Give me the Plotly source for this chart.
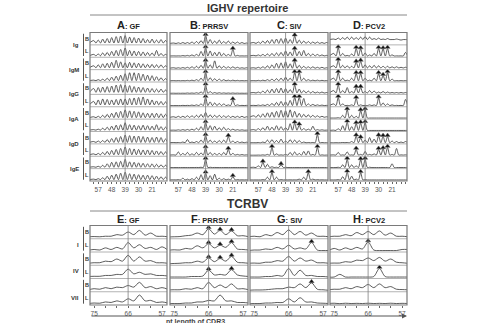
import plotly.graph_objects as go

W, H = 482, 323

# ---------------- data ----------------
IGHV_LEN = [60, 57, 54, 51, 48, 45, 42, 39, 36, 33, 30, 27, 24, 21, 18, 15, 12]
IGHV_TICKS = [57, 48, 39, 30, 21]
IGHV_GROUPS = ["Ig", "IgM", "IgG", "IgA", "IgD", "IgE"]
ROW_TAGS = ["B", "L"]

TCR_LEN = [76.5, 75, 73.5, 72, 70.5, 69, 67.5, 66, 64.5, 63, 61.5, 60, 58.5, 57, 55.5]
TCR_TICKS = [75, 66, 57]
TCR_GROUPS = ["I", "IV", "VII"]

PANELS_TOP = [("A", "GF"), ("B", "PRRSV"), ("C", "SIV"), ("D", "PCV2")]
PANELS_BOT = [("E", "GF"), ("F", "PRRSV"), ("G", "SIV"), ("H", "PCV2")]

# peak heights (relative) at IGHV_LEN, rows: Ig B, Ig L, IgM B, IgM L, IgG B, IgG L, IgA B, IgA L, IgD B, IgD L, IgE B, IgE L
A_GF = [
    [0.35, 0.4, 0.5, 0.55, 0.65, 0.75, 0.8, 0.85, 0.7, 0.65, 0.6, 0.55, 0.45, 0.5, 0.4, 0.45, 0.35],
    [0.2, 0.25, 0.35, 0.4, 0.5, 0.6, 0.7, 0.85, 0.6, 0.55, 0.5, 0.45, 0.4, 0.35, 0.6, 0.3, 0.2],
    [0.3, 0.4, 0.5, 0.55, 0.65, 0.85, 0.7, 0.6, 0.65, 0.6, 0.55, 0.5, 0.45, 0.45, 0.4, 0.4, 0.3],
    [0.1, 0.15, 0.2, 0.3, 0.4, 0.5, 0.6, 0.75, 0.85, 0.85, 0.8, 0.7, 0.6, 0.55, 0.45, 0.35, 0.25],
    [0.5, 0.6, 0.65, 0.7, 0.75, 0.85, 0.9, 0.85, 0.8, 0.7, 0.65, 0.6, 0.55, 0.5, 0.45, 0.45, 0.35],
    [0.45, 0.6, 0.7, 0.65, 0.6, 0.65, 0.7, 0.7, 0.75, 0.8, 0.85, 0.9, 0.7, 0.6, 0.5, 0.45, 0.4],
    [0.15, 0.2, 0.3, 0.4, 0.5, 0.6, 0.7, 0.85, 0.75, 0.7, 0.65, 0.55, 0.5, 0.5, 0.5, 0.45, 0.4],
    [0.1, 0.15, 0.25, 0.35, 0.45, 0.55, 0.6, 0.8, 0.6, 0.55, 0.5, 0.55, 0.5, 0.45, 0.6, 0.4, 0.35],
    [0.15, 0.2, 0.25, 0.35, 0.45, 0.55, 0.65, 0.8, 0.75, 0.7, 0.7, 0.65, 0.6, 0.55, 0.6, 0.55, 0.4],
    [0.15, 0.2, 0.3, 0.4, 0.5, 0.6, 0.7, 0.85, 0.7, 0.65, 0.6, 0.55, 0.55, 0.5, 0.45, 0.4, 0.35],
    [0.1, 0.15, 0.25, 0.4, 0.55, 0.6, 0.65, 0.85, 0.6, 0.55, 0.5, 0.45, 0.4, 0.4, 0.35, 0.3, 0.25],
    [0.1, 0.15, 0.25, 0.4, 0.5, 0.6, 0.7, 0.8, 0.65, 0.6, 0.55, 0.5, 0.5, 0.45, 0.4, 0.35, 0.3],
]
A_FLOOR = [0.1, 0.06, 0.1, 0.05, 0.12, 0.1, 0.06, 0.05, 0.06, 0.06, 0.05, 0.05]
A_MARK = [[] for _ in range(12)]

B_PRRSV = [
    [0.1, 0.12, 0.15, 0.15, 0.2, 0.25, 0.35, 0.85, 0.45, 0.3, 0.4, 0.25, 0.3, 0.2, 0.2, 0.15, 0.1],
    [0.05, 0.05, 0.08, 0.1, 0.15, 0.2, 0.5, 0.85, 0.55, 0.4, 0.45, 0.3, 0.2, 0.7, 0.1, 0.05, 0.05],
    [0.1, 0.1, 0.12, 0.15, 0.2, 0.25, 0.35, 0.75, 0.4, 0.8, 0.3, 0.25, 0.2, 0.2, 0.15, 0.1, 0.1],
    [0.05, 0.05, 0.05, 0.08, 0.1, 0.15, 0.3, 0.85, 0.35, 0.25, 0.2, 0.15, 0.1, 0.1, 0.08, 0.05, 0.05],
    [0.03, 0.03, 0.03, 0.05, 0.05, 0.08, 0.15, 0.85, 0.2, 0.1, 0.08, 0.06, 0.05, 0.05, 0.04, 0.03, 0.03],
    [0.03, 0.03, 0.05, 0.05, 0.08, 0.1, 0.2, 0.85, 0.4, 0.3, 0.25, 0.2, 0.1, 0.6, 0.1, 0.05, 0.05],
    [0.15, 0.2, 0.2, 0.25, 0.25, 0.3, 0.4, 0.6, 0.35, 0.3, 0.3, 0.25, 0.25, 0.2, 0.2, 0.2, 0.15],
    [0.05, 0.08, 0.1, 0.12, 0.15, 0.25, 0.4, 0.8, 0.5, 0.45, 0.3, 0.35, 0.2, 0.15, 0.1, 0.08, 0.05],
    [0.05, 0.05, 0.1, 0.35, 0.1, 0.15, 0.3, 0.75, 0.3, 0.2, 0.25, 0.3, 0.65, 0.2, 0.15, 0.1, 0.08],
    [0.05, 0.35, 0.2, 0.3, 0.15, 0.3, 0.25, 0.75, 0.3, 0.2, 0.2, 0.3, 0.6, 0.2, 0.1, 0.08, 0.05],
    [0.02, 0.02, 0.02, 0.02, 0.02, 0.03, 0.05, 0.85, 0.05, 0.03, 0.02, 0.02, 0.02, 0.02, 0.02, 0.02, 0.02],
    [0.03, 0.05, 0.2, 0.1, 0.15, 0.3, 0.55, 0.7, 0.45, 0.6, 0.2, 0.15, 0.1, 0.35, 0.05, 0.03, 0.03],
]
B_FLOOR = [0.05, 0.04, 0.05, 0.03, 0.02, 0.03, 0.08, 0.04, 0.03, 0.03, 0.02, 0.02]
B_MARK = [[39], [39, 21], [39], [39], [39], [39, 21], [], [39], [39, 24], [39, 24], [39], [39, 21]]

C_SIV = [
    [0.15, 0.2, 0.3, 0.35, 0.45, 0.5, 0.55, 0.6, 0.45, 0.8, 0.4, 0.3, 0.25, 0.2, 0.2, 0.15, 0.15],
    [0.1, 0.15, 0.2, 0.25, 0.3, 0.35, 0.4, 0.55, 0.45, 0.7, 0.5, 0.6, 0.3, 0.25, 0.2, 0.15, 0.1],
    [0.1, 0.15, 0.2, 0.3, 0.4, 0.55, 0.6, 0.7, 0.5, 0.75, 0.35, 0.25, 0.2, 0.2, 0.15, 0.15, 0.1],
    [0.05, 0.08, 0.1, 0.15, 0.2, 0.25, 0.3, 0.4, 0.3, 0.85, 0.85, 0.3, 0.15, 0.1, 0.1, 0.08, 0.05],
    [0.1, 0.15, 0.25, 0.35, 0.45, 0.5, 0.55, 0.5, 0.4, 0.85, 0.45, 0.3, 0.25, 0.2, 0.15, 0.15, 0.1],
    [0.05, 0.08, 0.1, 0.15, 0.25, 0.35, 0.45, 0.4, 0.55, 0.85, 0.85, 0.75, 0.2, 0.15, 0.1, 0.08, 0.05],
    [0.25, 0.35, 0.45, 0.55, 0.6, 0.7, 0.8, 0.75, 0.85, 0.7, 0.5, 0.4, 0.35, 0.3, 0.25, 0.2, 0.15],
    [0.1, 0.2, 0.3, 0.45, 0.35, 0.5, 0.4, 0.3, 0.7, 0.75, 0.55, 0.2, 0.15, 0.45, 0.1, 0.08, 0.05],
    [0.03, 0.05, 0.1, 0.3, 0.35, 0.25, 0.4, 0.2, 0.35, 0.3, 0.25, 0.1, 0.05, 0.05, 0.85, 0.05, 0.03],
    [0.02, 0.03, 0.05, 0.1, 0.8, 0.15, 0.05, 0.1, 0.3, 0.35, 0.2, 0.4, 0.45, 0.1, 0.8, 0.05, 0.03],
    [0.05, 0.2, 0.55, 0.35, 0.1, 0.05, 0.3, 0.05, 0.02, 0.02, 0.02, 0.02, 0.02, 0.02, 0.02, 0.02, 0.02],
    [0.02, 0.02, 0.05, 0.3, 0.75, 0.3, 0.05, 0.03, 0.03, 0.03, 0.1, 0.3, 0.75, 0.1, 0.05, 0.03, 0.02],
]
C_FLOOR = [0.06, 0.05, 0.05, 0.03, 0.05, 0.03, 0.1, 0.04, 0.02, 0.02, 0.02, 0.02]
C_MARK = [[33], [33], [33], [33, 30], [33], [33, 30], [], [33, 30], [18], [48, 18], [54, 42], [48, 24]]

D_PCV2 = [
    [0.5, 0.6, 0.65, 0.7, 0.7, 0.65, 0.7, 0.75, 0.7, 0.55, 0.6, 0.5, 0.55, 0.45, 0.5, 0.4, 0.45],
    [0.3, 0.85, 0.3, 0.1, 0.25, 0.8, 0.75, 0.35, 0.15, 0.3, 0.8, 0.75, 0.8, 0.15, 0.05, 0.05, 0.4],
    [0.3, 0.85, 0.35, 0.3, 0.25, 0.65, 0.75, 0.4, 0.3, 0.35, 0.3, 0.25, 0.25, 0.2, 0.2, 0.15, 0.15],
    [0.3, 0.85, 0.3, 0.1, 0.3, 0.75, 0.75, 0.3, 0.1, 0.3, 0.75, 0.55, 0.85, 0.2, 0.05, 0.05, 0.05],
    [0.3, 0.85, 0.3, 0.6, 0.2, 0.6, 0.6, 0.2, 0.3, 0.25, 0.15, 0.2, 0.15, 0.1, 0.1, 0.1, 0.1],
    [0.2, 0.85, 0.2, 0.05, 0.1, 0.75, 0.1, 0.05, 0.1, 0.1, 0.8, 0.3, 0.2, 0.1, 0.05, 0.05, 0.65],
    [0.02, 0.05, 0.3, 0.85, 0.3, 0.2, 0.75, 0.85, 0.02, 0.02, 0.02, 0.02, 0.02, 0.02, 0.02, 0.02, 0.02],
    [0.05, 0.2, 0.5, 0.85, 0.4, 0.7, 0.75, 0.8, 0.02, 0.02, 0.02, 0.02, 0.02, 0.02, 0.02, 0.02, 0.02],
    [0.02, 0.02, 0.05, 0.05, 0.15, 0.7, 0.5, 0.3, 0.55, 0.4, 0.7, 0.65, 0.65, 0.2, 0.15, 0.1, 0.15],
    [0.05, 0.3, 0.05, 0.35, 0.05, 0.6, 0.1, 0.4, 0.1, 0.15, 0.6, 0.65, 0.8, 0.1, 0.7, 0.05, 0.05],
    [0.02, 0.05, 0.3, 0.85, 0.3, 0.2, 0.8, 0.85, 0.05, 0.02, 0.02, 0.02, 0.02, 0.4, 0.02, 0.02, 0.02],
    [0.02, 0.05, 0.35, 0.8, 0.4, 0.1, 0.75, 0.05, 0.02, 0.02, 0.02, 0.02, 0.02, 0.02, 0.02, 0.02, 0.02],
]
D_FLOOR = [0.45, 0.04, 0.08, 0.03, 0.05, 0.03, 0.02, 0.02, 0.03, 0.03, 0.02, 0.02]
D_MARK = [[], [57, 45, 42, 30, 27, 24], [57, 45, 42], [57, 45, 42, 30, 27, 24], [57, 45, 42], [57, 45, 30],
          [51, 42, 39], [51, 45, 42, 39], [45, 42, 30, 27, 24], [45, 30, 27, 24], [51, 42, 39], [51, 42]]

# TCRBV traces at TCR_LEN, rows: I B, I L, IV B, IV L, VII B, VII L
E_GF = [
    [0.1, 0.12, 0.1, 0.15, 0.15, 0.3, 0.25, 0.55, 0.3, 0.7, 0.25, 0.45, 0.15, 0.15, 0.1],
    [0.08, 0.15, 0.1, 0.3, 0.15, 0.35, 0.2, 0.8, 0.3, 0.6, 0.25, 0.35, 0.15, 0.4, 0.1],
    [0.1, 0.15, 0.15, 0.3, 0.25, 0.5, 0.3, 0.85, 0.3, 0.7, 0.3, 0.35, 0.15, 0.15, 0.1],
    [0.1, 0.12, 0.12, 0.2, 0.2, 0.3, 0.3, 0.8, 0.35, 0.5, 0.3, 0.35, 0.2, 0.2, 0.15],
    [0.1, 0.2, 0.15, 0.3, 0.2, 0.35, 0.3, 0.5, 0.35, 0.8, 0.3, 0.4, 0.2, 0.3, 0.15],
    [0.05, 0.1, 0.08, 0.2, 0.15, 0.3, 0.2, 0.5, 0.3, 0.85, 0.3, 0.35, 0.15, 0.2, 0.1],
]
E_MARK = [[], [], [], [], [], []]

F_PRRSV = [
    [0.08, 0.1, 0.12, 0.2, 0.25, 0.45, 0.3, 0.85, 0.35, 0.7, 0.3, 0.65, 0.2, 0.2, 0.1],
    [0.08, 0.12, 0.1, 0.25, 0.2, 0.5, 0.3, 0.7, 0.3, 0.55, 0.35, 0.8, 0.2, 0.15, 0.1],
    [0.05, 0.08, 0.1, 0.15, 0.15, 0.3, 0.2, 0.6, 0.25, 0.55, 0.3, 0.75, 0.2, 0.15, 0.1],
    [0.05, 0.05, 0.05, 0.05, 0.1, 0.1, 0.15, 0.7, 0.25, 0.3, 0.25, 0.75, 0.25, 0.15, 0.1],
    [0.08, 0.1, 0.1, 0.2, 0.15, 0.3, 0.2, 0.8, 0.3, 0.55, 0.3, 0.65, 0.2, 0.2, 0.1],
    [0.05, 0.05, 0.05, 0.1, 0.1, 0.2, 0.2, 0.35, 0.3, 0.85, 0.3, 0.3, 0.15, 0.15, 0.1],
]
F_MARK = [[66, 63, 60], [66, 63, 60], [66, 63, 60], [66, 60], [], []]

G_SIV = [
    [0.1, 0.15, 0.1, 0.3, 0.2, 0.5, 0.3, 0.75, 0.3, 0.6, 0.25, 0.45, 0.15, 0.15, 0.1],
    [0.05, 0.1, 0.1, 0.2, 0.15, 0.35, 0.2, 0.55, 0.2, 0.3, 0.2, 0.8, 0.1, 0.05, 0.05],
    [0.1, 0.12, 0.1, 0.2, 0.2, 0.35, 0.3, 0.75, 0.3, 0.6, 0.3, 0.4, 0.15, 0.15, 0.1],
    [0.05, 0.05, 0.05, 0.1, 0.1, 0.2, 0.15, 0.85, 0.2, 0.7, 0.2, 0.2, 0.1, 0.1, 0.05],
    [0.05, 0.08, 0.08, 0.1, 0.15, 0.2, 0.2, 0.35, 0.3, 0.65, 0.3, 0.75, 0.15, 0.1, 0.05],
    [0.03, 0.05, 0.05, 0.1, 0.1, 0.15, 0.15, 0.5, 0.2, 0.6, 0.2, 0.2, 0.1, 0.08, 0.05],
]
G_MARK = [[], [60], [], [], [60], []]

H_PCV2 = [
    [0.1, 0.15, 0.15, 0.3, 0.2, 0.5, 0.3, 0.6, 0.3, 0.65, 0.25, 0.45, 0.15, 0.15, 0.1],
    [0.05, 0.25, 0.1, 0.3, 0.15, 0.35, 0.2, 0.85, 0.1, 0.05, 0.05, 0.05, 0.05, 0.15, 0.15],
    [0.1, 0.12, 0.12, 0.25, 0.2, 0.4, 0.35, 0.6, 0.35, 0.65, 0.3, 0.5, 0.2, 0.15, 0.1],
    [0.05, 0.05, 0.3, 0.05, 0.05, 0.05, 0.05, 0.05, 0.1, 0.85, 0.1, 0.05, 0.05, 0.05, 0.05],
    [0.1, 0.15, 0.15, 0.3, 0.2, 0.4, 0.3, 0.6, 0.3, 0.65, 0.3, 0.4, 0.15, 0.12, 0.1],
    [0.05, 0.08, 0.04, 0.08, 0.05, 0.07, 0.05, 0.08, 0.05, 0.07, 0.05, 0.08, 0.05, 0.07, 0.05],
]
H_MARK = [[], [66], [], [63], [], []]

TOP_DATA = [(A_GF, A_FLOOR, A_MARK), (B_PRRSV, B_FLOOR, B_MARK), (C_SIV, C_FLOOR, C_MARK), (D_PCV2, D_FLOOR, D_MARK)]
BOT_DATA = [(E_GF, E_MARK), (F_PRRSV, F_MARK), (G_SIV, G_MARK), (H_PCV2, H_MARK)]

# ---------------- layout helpers ----------------
def px(x):
    return x / W


def py(y):
    return 1 - y / H


COL_PX = [(90, 167), (170, 248), (250, 328), (330, 407)]
TOP_PX = (32.5, 181)
BOT_PX = (225.5, 305)
IGHV_RANGE = [62.5, 11]
TCR_RANGE = [76.1, 55.7]
AMP = 0.8
BASE = 0.07
LINE_C = "#333333"
FRAME_C = "#7a7a7a"
SEP_C = "#a0a0a0"
FONT = "Arial, Liberation Sans, sans-serif"

fig = go.Figure()
shapes = []
annotations = []
layout_axes = {}

n_top = len(IGHV_GROUPS) * 2
n_bot = len(TCR_GROUPS) * 2

for sec in range(2):
    for c in range(4):
        idx = sec * 4 + c + 1
        xname = "x" if idx == 1 else f"x{idx}"
        xkey = "xaxis" if idx == 1 else f"xaxis{idx}"
        yname = "y" if sec == 0 else "y2"
        if sec == 0:
            tv = IGHV_LEN
            tt = [str(v) if v in IGHV_TICKS else "" for v in IGHV_LEN]
            rng = IGHV_RANGE
            nrows = n_top
        else:
            tv = [75, 72, 69, 66, 63, 60, 57]
            tt = [str(v) if v in TCR_TICKS else "" for v in tv]
            rng = TCR_RANGE
            nrows = n_bot
        layout_axes[xkey] = dict(
            domain=[px(COL_PX[c][0]), px(COL_PX[c][1])], anchor=yname, range=rng,
            tickvals=tv, ticktext=tt, ticks="outside", ticklen=2, tickwidth=0.8, tickcolor="#666",
            tickfont=dict(size=6.5, color="#555", family=FONT), showgrid=False, zeroline=False,
            showline=False, fixedrange=True)

        if sec == 0:
            rows, floors, marks = TOP_DATA[c]
        else:
            rows, marks = BOT_DATA[c]
        for r in range(nrows):
            base = nrows - 1 - r + BASE
            if sec == 0:
                xs, ys = [IGHV_RANGE[0] + 0.5], [base + floors[r] * AMP]
                for i, p in enumerate(IGHV_LEN):
                    xs.append(p)
                    ys.append(base + rows[r][i] * AMP)
                    xs.append(p - 1.5)
                    ys.append(base + floors[r] * AMP)
                lens = IGHV_LEN
            else:
                xs = list(TCR_LEN)
                ys = [base + v * AMP for v in rows[r]]
                lens = TCR_LEN
            fig.add_trace(go.Scatter(x=xs, y=ys, mode="lines", xaxis=xname, yaxis=yname,
                                     line=dict(color=LINE_C, width=0.8, shape="spline", smoothing=0.9),
                                     hoverinfo="skip", showlegend=False))
            if marks[r]:
                mx = marks[r]
                my = [base + rows[r][lens.index(m)] * AMP + 0.1 for m in mx]
                fig.add_trace(go.Scatter(x=mx, y=my, mode="markers", xaxis=xname, yaxis=yname,
                                         marker=dict(symbol="triangle-up", size=4.5, color="#111",
                                                     line=dict(width=0.5, color="#666")),
                                         hoverinfo="skip", showlegend=False, cliponaxis=False))
            # row separator
            if r > 0:
                shapes.append(dict(type="line", xref=f"{xname} domain", yref=yname, x0=0, x1=1,
                                   y0=nrows - r, y1=nrows - r, line=dict(color=SEP_C, width=0.8)))
        # reference line
        refx = 39 if sec == 0 else 66
        shapes.append(dict(type="line", xref=xname, yref=f"{yname} domain", x0=refx, x1=refx, y0=0, y1=1,
                           line=dict(color="#808080", width=0.8)))
        # frame
        shapes.append(dict(type="rect", xref=f"{xname} domain", yref=f"{yname} domain", x0=0, x1=1, y0=0, y1=1,
                           line=dict(color=FRAME_C, width=1.2)))
        # panel title
        letter, name = (PANELS_TOP if sec == 0 else PANELS_BOT)[c]
        ty = 25 if sec == 0 else 219
        annotations.append(dict(
            x=px((COL_PX[c][0] + COL_PX[c][1]) / 2), y=py(ty), xref="paper", yref="paper",
            text=f"<b><span style='font-size:11px'>{letter}</span>: {name}</b>",
            showarrow=False, font=dict(size=7.5, color="#222", family=FONT), xanchor="center", yanchor="middle"))

layout_axes["yaxis"] = dict(domain=[py(TOP_PX[1]), py(TOP_PX[0])], range=[0, n_top], visible=False,
                            anchor="x", fixedrange=True)
layout_axes["yaxis2"] = dict(domain=[py(BOT_PX[1]), py(BOT_PX[0])], range=[0, n_bot], visible=False,
                             anchor="x5", fixedrange=True)

# left row labels
for sec, groups, yname, nrows, goff in [(0, IGHV_GROUPS, "y", n_top, 1.0), (1, TCR_GROUPS, "y2", n_bot, 1.45)]:
    for g, gname in enumerate(groups):
        top = nrows - 2 * g
        annotations.append(dict(x=px(81), y=top - goff, xref="paper", yref=yname, text=f"<b>{gname}</b>",
                                showarrow=False, xanchor="right", yanchor="middle",
                                font=dict(size=6, color="#333", family=FONT)))
        shapes.append(dict(type="line", xref="paper", yref=yname, x0=px(83.5), x1=px(83.5),
                           y0=top - 1.9, y1=top - 0.1, line=dict(color="#555", width=1)))
        for k, tag in enumerate(ROW_TAGS):
            annotations.append(dict(x=px(86.8), y=top - 0.5 - k, xref="paper", yref=yname, text=f"<b>{tag}</b>",
                                    showarrow=False, xanchor="center", yanchor="middle",
                                    font=dict(size=5.5, color="#333", family=FONT)))

# section titles and rules
annotations.append(dict(x=px(248), y=py(8.5), xref="paper", yref="paper", text="<b>IGHV repertoire</b>",
                        showarrow=False, xanchor="center", yanchor="middle",
                        font=dict(size=11, color="#333", family=FONT)))
annotations.append(dict(x=px(248), y=py(204), xref="paper", yref="paper", text="<b>TCRBV</b>",
                        showarrow=False, xanchor="center", yanchor="middle",
                        font=dict(size=12, color="#333", family=FONT)))
for ly in (15, 211):
    shapes.append(dict(type="line", xref="paper", yref="paper", x0=px(90), x1=px(407), y0=py(ly), y1=py(ly),
                       line=dict(color="#888", width=1)))

# bottom arrow and axis caption
annotations.append(dict(x=px(407), y=py(316), ax=-(407 - 90), ay=0, xref="paper", yref="paper",
                        axref="pixel", ayref="pixel", text="", showarrow=True, arrowhead=2, arrowsize=1,
                        arrowwidth=1, arrowcolor="#555"))
annotations.append(dict(x=px(195), y=py(321.5), xref="paper", yref="paper", text="<b>nt length of CDR3</b>",
                        showarrow=False, xanchor="center", yanchor="middle",
                        font=dict(size=7, color="#444", family=FONT)))

fig.update_layout(width=W, height=H, margin=dict(l=0, r=0, t=0, b=0), paper_bgcolor="white",
                  plot_bgcolor="white", shapes=shapes, annotations=annotations, showlegend=False,
                  **layout_axes)

fig.write_html("out.html")
